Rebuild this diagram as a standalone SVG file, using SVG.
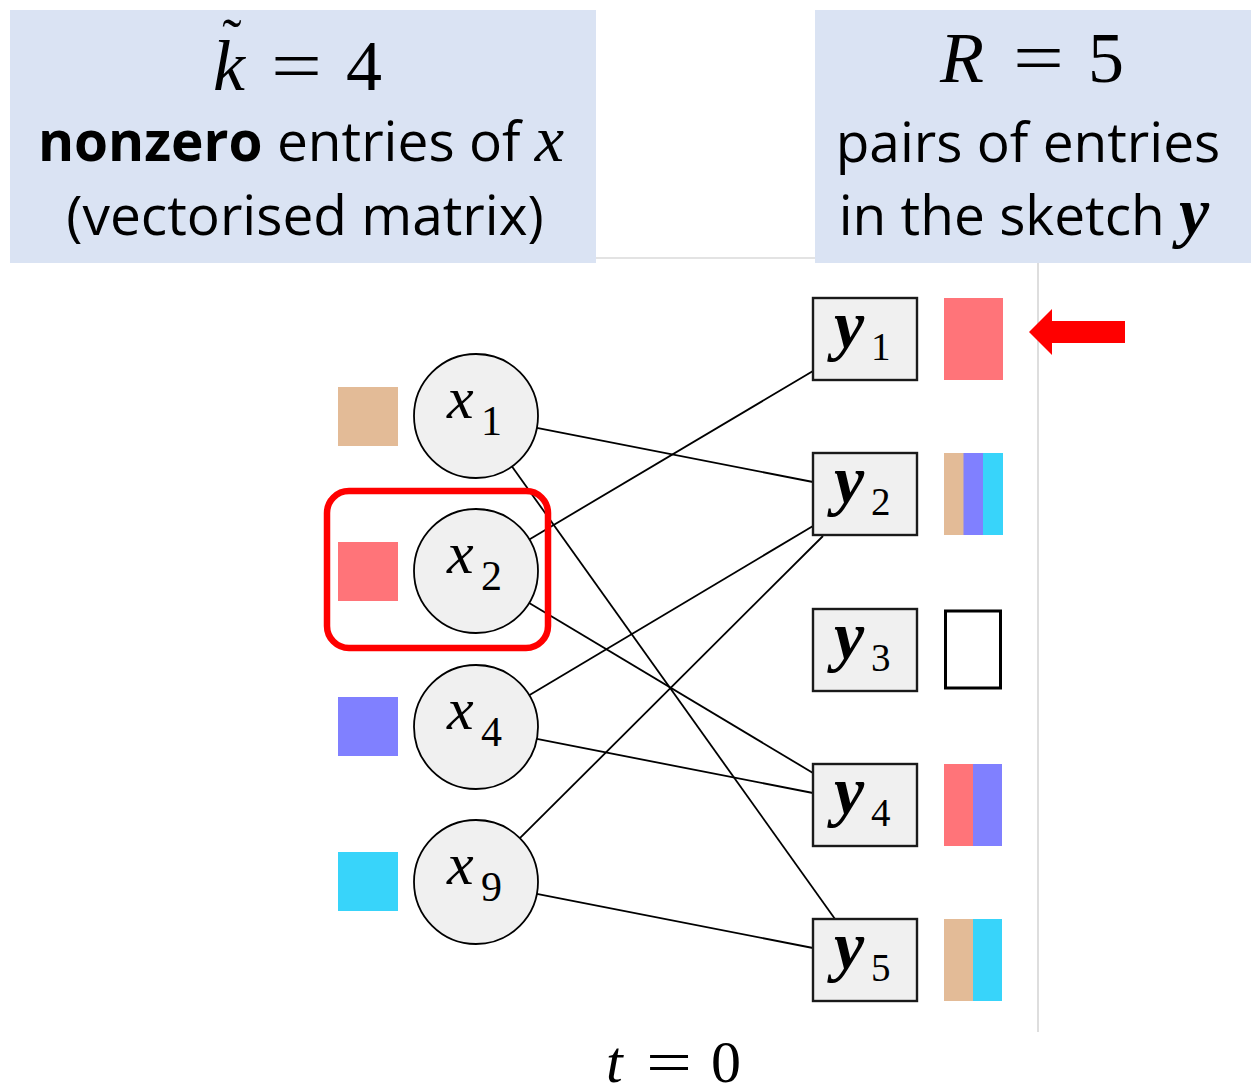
<svg xmlns="http://www.w3.org/2000/svg" width="1251" height="1089" viewBox="0 0 1251 1089">
<style>
.hdr{fill:#dae3f3}
.guide{stroke:#c8c8c8;stroke-width:1.2;fill:none}
.body{font-family:"Open Sans","Noto Sans",sans-serif;font-size:55px;fill:#000}
.math{font-family:"Liberation Serif","DejaVu Serif",serif;fill:#000}
.it{font-style:italic}
.bi{font-style:italic;font-weight:bold}
.circ{fill:#f0f0f0;stroke:#000;stroke-width:1.8}
.ybox{fill:#f0f0f0;stroke:#1a1a1a;stroke-width:2.4}
.edge{stroke:#000;stroke-width:1.8;fill:none}
.tan{fill:#e3bb97}
.pink{fill:#ff7479}
.vio{fill:#8080ff}
.cyan{fill:#38d4fa}
</style>

<g id="guides">
<line class="guide" x1="596" y1="258" x2="815" y2="258"/>
<line class="guide" x1="1038" y1="263" x2="1038" y2="1032"/>
</g>

<g id="header-left">
<rect class="hdr" x="10" y="10" width="586" height="253"/>
<text class="math it" x="213" y="90" font-size="72">k</text>
<text class="math" x="232" y="58" font-size="58" text-anchor="middle">˜</text>
<text class="math" x="271" y="90" font-size="72" textLength="51" lengthAdjust="spacingAndGlyphs">=</text>
<text class="math" x="346" y="90" font-size="72">4</text>
<text class="body" x="301" y="161" text-anchor="middle" font-size="56"><tspan font-weight="bold">nonzero</tspan> entries of <tspan class="math it" font-size="66">x</tspan></text>
<text class="body" x="305" y="235" text-anchor="middle" font-size="56">(vectorised matrix)</text>
</g>

<g id="header-right">
<rect class="hdr" x="815" y="10" width="436" height="253"/>
<text class="math it" x="940" y="82" font-size="72">R</text>
<text class="math" x="1013" y="82" font-size="72" textLength="51" lengthAdjust="spacingAndGlyphs">=</text>
<text class="math" x="1088" y="82" font-size="72">5</text>
<text class="body" x="1028" y="162" text-anchor="middle">pairs of entries</text>
<text class="body" x="1024" y="235" text-anchor="middle">in the sketch <tspan class="math bi" font-size="68">y</tspan></text>
</g>

<g id="connectors">
<line class="edge" x1="536.8" y1="427.9" x2="813" y2="482"/>
<line class="edge" x1="512" y1="466.5" x2="835" y2="919"/>
<line class="edge" x1="529.3" y1="539.4" x2="813" y2="371"/>
<line class="edge" x1="529.2" y1="602.9" x2="813" y2="773"/>
<line class="edge" x1="529.2" y1="695.2" x2="813" y2="526"/>
<line class="edge" x1="536.8" y1="738.9" x2="813" y2="793"/>
<line class="edge" x1="519.9" y1="838.2" x2="823" y2="536"/>
<line class="edge" x1="536.8" y1="893.9" x2="813" y2="948"/>
</g>

<g id="node-x1">
<rect class="tan" x="338" y="387" width="60" height="59"/>
<circle class="circ" cx="476" cy="416" r="62"/>
<text class="math it" x="447" y="418" font-size="60">x<tspan class="math" font-style="normal" x="481" y="435" font-size="42">1</tspan></text>
</g>
<g id="node-x2">
<rect class="pink" x="338" y="542" width="60" height="59"/>
<circle class="circ" cx="476" cy="571" r="62"/>
<text class="math it" x="447" y="573" font-size="60">x<tspan class="math" font-style="normal" x="481" y="590" font-size="42">2</tspan></text>
</g>
<g id="node-x4">
<rect class="vio" x="338" y="697" width="60" height="59"/>
<circle class="circ" cx="476" cy="727" r="62"/>
<text class="math it" x="447" y="729" font-size="60">x<tspan class="math" font-style="normal" x="481" y="746" font-size="42">4</tspan></text>
</g>
<g id="node-x9">
<rect class="cyan" x="338" y="852" width="60" height="59"/>
<circle class="circ" cx="476" cy="882" r="62"/>
<text class="math it" x="447" y="884" font-size="60">x<tspan class="math" font-style="normal" x="481" y="901" font-size="42">9</tspan></text>
</g>

<g id="highlight">
<rect x="327" y="491" width="221" height="157" rx="22" fill="none" stroke="#ff0000" stroke-width="6.5"/>
</g>

<g id="node-y1">
<rect class="ybox" x="813" y="298" width="104" height="82"/>
<text class="math bi" x="834" y="348" font-size="68">y<tspan font-style="normal" font-weight="normal" x="871" y="360" font-size="39">1</tspan></text>
<rect class="pink" x="944" y="298" width="59" height="82"/>
</g>
<g id="node-y2">
<rect class="ybox" x="813" y="453" width="104" height="82"/>
<text class="math bi" x="834" y="503" font-size="68">y<tspan font-style="normal" font-weight="normal" x="871" y="515" font-size="39">2</tspan></text>
<rect class="tan" x="944" y="453" width="20" height="82"/>
<rect class="vio" x="963.5" y="453" width="20" height="82"/>
<rect class="cyan" x="983" y="453" width="20" height="82"/>
</g>
<g id="node-y3">
<rect class="ybox" x="813" y="609" width="104" height="82"/>
<text class="math bi" x="834" y="659" font-size="68">y<tspan font-style="normal" font-weight="normal" x="871" y="671" font-size="39">3</tspan></text>
<rect x="945.5" y="611" width="55" height="77" fill="#ffffff" stroke="#000" stroke-width="3"/>
</g>
<g id="node-y4">
<rect class="ybox" x="813" y="764" width="104" height="82"/>
<text class="math bi" x="834" y="814" font-size="68">y<tspan font-style="normal" font-weight="normal" x="871" y="826" font-size="39">4</tspan></text>
<rect class="pink" x="944" y="764" width="29.5" height="82"/>
<rect class="vio" x="973" y="764" width="29" height="82"/>
</g>
<g id="node-y5">
<rect class="ybox" x="813" y="919" width="104" height="82"/>
<text class="math bi" x="834" y="969" font-size="68">y<tspan font-style="normal" font-weight="normal" x="871" y="981" font-size="39">5</tspan></text>
<rect class="tan" x="944" y="919" width="29.5" height="82"/>
<rect class="cyan" x="973" y="919" width="29" height="82"/>
</g>

<g id="pointer">
<polygon points="1029,332 1052,309 1052,321 1125,321 1125,343 1052,343 1052,355" fill="#ff0000"/>
</g>

<g id="caption">
<text class="math it" x="606" y="1082" font-size="60">t</text>
<text class="math" x="646" y="1082" font-size="60" textLength="46" lengthAdjust="spacingAndGlyphs">=</text>
<text class="math" x="711" y="1082" font-size="60">0</text>
</g>
</svg>
